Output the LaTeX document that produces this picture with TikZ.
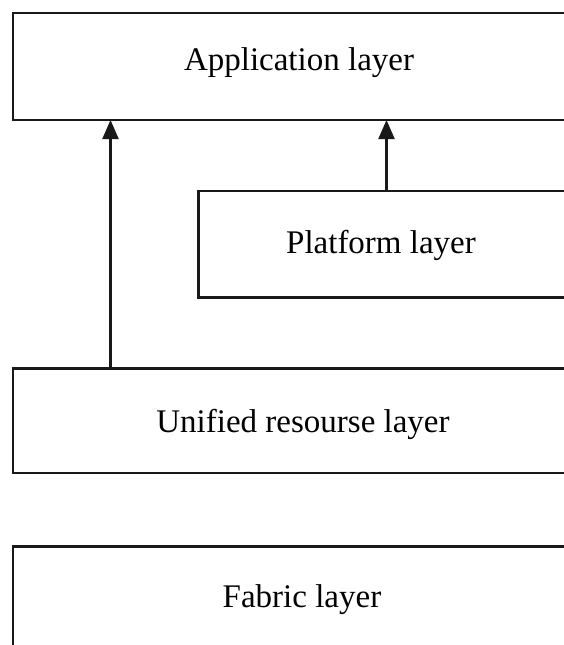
\documentclass[tikz,border=0pt]{standalone}
\usepackage{fontspec}
\setmainfont{Liberation Serif}
\usetikzlibrary{arrows.meta}
\begin{document}
\begin{tikzpicture}[x=1pt,y=1pt,
  layerbox/.style={draw=black!90, line width=2.2pt, rectangle, inner sep=0pt, outer sep=0pt},
  layertext/.style={anchor=base, inner sep=0pt, font=\fontsize{33}{40}\selectfont},
  uparrow/.style={draw=black!90, line width=2.2pt, -{Triangle[width=16pt,length=19pt]}}]
\useasboundingbox (0,0) rectangle (564,-645);
\clip (0,0) rectangle (564,-645);
\node[layerbox, minimum width=587pt, minimum height=107pt] (app) at (306.5,-66.5) {};
\node[layerbox, minimum width=401.5pt, minimum height=106.5pt] (plat) at (399.25,-244.25) {};
\node[layerbox, minimum width=587pt, minimum height=104.5pt] (uni) at (306.5,-420.75) {};
\node[layerbox, minimum width=587pt, minimum height=153.5pt] (fab) at (306.5,-623.25) {};
\node[layertext] (apptxt) at (299,-70) {Application layer};
\node[layertext] (plattxt) at (381,-253) {Platform layer};
\node[layertext] (unitxt) at (303,-432.7) {Unified resourse layer};
\node[layertext] (fabtxt) at (302,-607) {Fabric layer};
\draw[uparrow] ([xshift=97.5pt]uni.north west) -- ([xshift=97.5pt]app.south west);
\draw[uparrow] ([xshift=188pt]plat.north west) -- ([xshift=373.5pt]app.south west);
\end{tikzpicture}
\end{document}
